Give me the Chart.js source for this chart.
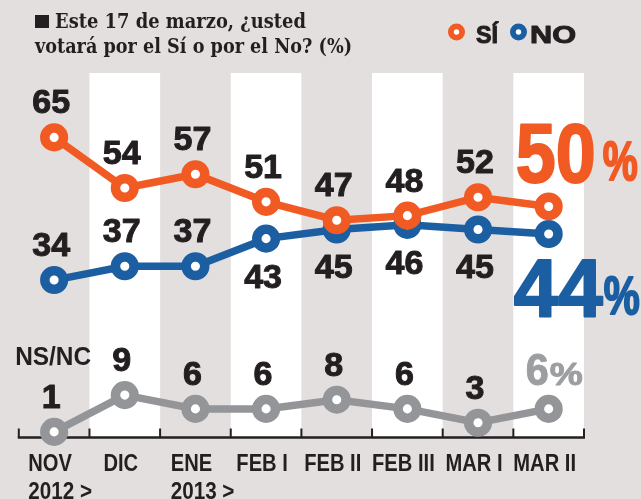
<!DOCTYPE html>
<html>
<head>
<meta charset="utf-8">
<script src="https://cdn.jsdelivr.net/npm/chart.js@4/dist/chart.umd.min.js"></script>
<style>
  html, body { margin: 0; padding: 0; background: #e2dfde; }
  #wrap { width: 641px; height: 499px; position: relative; }
  canvas { display: block; }
</style>
</head>
<body>
<div id="wrap"><canvas id="c" width="641" height="499"></canvas></div>
<script>
// ---- data ----
const categories = ['NOV', 'DIC', 'ENE', 'FEB I', 'FEB II', 'FEB III', 'MAR I', 'MAR II'];
const yearLabels = ['2012 >', '', '2013 >', '', '', '', '', ''];
const siValues = [65, 54, 57, 51, 47, 48, 52, 50];
const noValues = [34, 37, 37, 43, 45, 46, 45, 44];
const nsncValues = [1, 9, 6, 6, 8, 6, 3, 6];
// label placement for each point: 'up', 'down' or null (last point gets a big label)
const siLabelPos = ['up', 'up', 'up', 'up', 'up', 'up', 'up', null];
const noLabelPos = ['up', 'up', 'up', 'down', 'down', 'down', 'down', null];
const nsncLabelPos = ['up', 'up', 'up', 'up', 'up', 'up', 'up', null];
const titleLines = ['Este 17 de marzo, ¿usted', 'votará por el Sí o por el No? (%)'];

const ORANGE = '#f15a22';
const BLUE = '#1b5fa2';
const GRAY = '#939598';
const GRAY_TXT = '#9c9ea1';
const INK = '#231f20';
const SANS = '"Liberation Sans", Arial, sans-serif';
const SERIF = '"DejaVu Serif", "Liberation Serif", serif';

function drawText(ctx, text, x, y, font, color, opts) {
  opts = opts || {};
  ctx.save();
  ctx.font = font;
  ctx.fillStyle = color;
  ctx.textAlign = 'left';
  ctx.textBaseline = 'alphabetic';
  const mw = ctx.measureText(text).width;
  let sx = opts.scaleX || 1;
  if (opts.width) sx = opts.width / mw;
  const w = mw * sx;
  let left = x;
  if (opts.align === 'center') left = x - w / 2;
  else if (opts.align === 'right') left = x - w;
  ctx.translate(left, y);
  ctx.scale(sx, 1);
  ctx.fillText(text, 0, 0);
  if (opts.stroke) {
    ctx.lineWidth = opts.stroke;
    ctx.strokeStyle = color;
    ctx.lineJoin = 'round';
    ctx.strokeText(text, 0, 0);
  }
  ctx.restore();
  return { left: left, width: w };
}

const decorPlugin = {
  id: 'decor',
  beforeDatasetsDraw(chart) {
    const ctx = chart.ctx;
    const xs = chart.scales.x;
    const ys = chart.scales.y;
    const area = chart.chartArea;
    const axisY = ys.getPixelForValue(0) + 1;
    const n = categories.length;
    const bounds = [];
    for (let i = 0; i <= n; i++) {
      if (i === 0) bounds.push(area.left);
      else if (i === n) bounds.push(area.right);
      else bounds.push((xs.getPixelForValue(i - 1) + xs.getPixelForValue(i)) / 2);
    }
    ctx.save();
    ctx.fillStyle = '#ffffff';
    for (let i = 1; i < n; i += 2) {
      ctx.fillRect(bounds[i], area.top, bounds[i + 1] - bounds[i], axisY - area.top);
    }
    ctx.strokeStyle = INK;
    ctx.lineWidth = 2.5;
    ctx.beginPath();
    ctx.moveTo(bounds[0] - 1, axisY);
    ctx.lineTo(bounds[n] + 1, axisY);
    ctx.stroke();
    ctx.lineWidth = 2;
    for (let i = 0; i <= n; i++) {
      ctx.beginPath();
      ctx.moveTo(bounds[i], axisY);
      ctx.lineTo(bounds[i], axisY - 9);
      ctx.stroke();
    }
    ctx.restore();
  },
  afterDatasetsDraw(chart) {
    const ctx = chart.ctx;
    const xs = chart.scales.x;
    const ys = chart.scales.y;
    const axisY = ys.getPixelForValue(0) + 1;

    // title
    ctx.save();
    ctx.fillStyle = INK;
    ctx.fillRect(35, 15, 14, 13);
    ctx.restore();
    drawText(ctx, titleLines[0], 55, 28, 'bold 20px ' + SERIF, INK, { width: 251 });
    drawText(ctx, titleLines[1], 35, 53, 'bold 20px ' + SERIF, INK, { width: 317 });

    // legend
    function ring(cx, cy, color) {
      ctx.save();
      ctx.beginPath();
      ctx.arc(cx, cy, 5.6, 0, Math.PI * 2);
      ctx.fillStyle = '#fff';
      ctx.fill();
      ctx.lineWidth = 5.8;
      ctx.strokeStyle = color;
      ctx.stroke();
      ctx.restore();
    }
    ring(456.5, 32, ORANGE);
    drawText(ctx, 'SÍ', 476, 43, 'bold 24px ' + SANS, INK, { width: 22, stroke: 1 });
    ring(518.5, 32, BLUE);
    drawText(ctx, 'NO', 530, 43, 'bold 24px ' + SANS, INK, { width: 46, stroke: 1 });

    // x labels
    for (let i = 0; i < categories.length; i++) {
      const cx = xs.getPixelForValue(i) - 4;
      const r = drawText(ctx, categories[i], cx, axisY + 33, 'bold 24px ' + SANS, INK, { scaleX: 0.84, align: 'center' });
      if (yearLabels[i]) {
        drawText(ctx, yearLabels[i], r.left, axisY + 61, 'bold 24px ' + SANS, INK, { scaleX: 0.86 });
      }
    }

    // point value labels
    const sets = [
      { idx: 0, vals: siValues, pos: siLabelPos },
      { idx: 1, vals: noValues, pos: noLabelPos },
      { idx: 2, vals: nsncValues, pos: nsncLabelPos }
    ];
    sets.forEach(s => {
      const meta = chart.getDatasetMeta(s.idx);
      meta.data.forEach((pt, i) => {
        const p = s.pos[i];
        if (!p) return;
        const y = p === 'up' ? pt.y - 24 : pt.y + 49;
        drawText(ctx, String(s.vals[i]), pt.x - 3, y, 'bold 34px ' + SANS, INK, { align: 'center', stroke: 1 });
      });
    });

    // NS/NC label
    const g0 = chart.getDatasetMeta(2).data[0];
    drawText(ctx, 'NS/NC', g0.x - 1, g0.y - 67, 'bold 25px ' + SANS, INK, { width: 76, align: 'center' });

    // big end labels
    const last = categories.length - 1;
    const oL = chart.getDatasetMeta(0).data[last];
    drawText(ctx, String(siValues[last]), oL.x - 33, oL.y - 24, 'bold 83px ' + SANS, ORANGE, { width: 80, stroke: 2 });
    drawText(ctx, '%', oL.x + 54, oL.y - 26, 'bold 55px ' + SANS, ORANGE, { width: 35, stroke: 2 });
    const bL = chart.getDatasetMeta(1).data[last];
    drawText(ctx, String(noValues[last]), bL.x - 35, bL.y + 82, 'bold 81px ' + SANS, BLUE, { width: 89, stroke: 2 });
    drawText(ctx, '%', bL.x + 55, bL.y + 80, 'bold 53px ' + SANS, BLUE, { width: 36, stroke: 2 });
    const gL = chart.getDatasetMeta(2).data[last];
    drawText(ctx, String(nsncValues[last]), gL.x - 23, gL.y - 24, 'bold 45px ' + SANS, GRAY_TXT, { width: 23, stroke: 1 });
    drawText(ctx, '%', gL.x + 1, gL.y - 24, 'bold 32px ' + SANS, GRAY_TXT, { width: 33, stroke: 1 });
  }
};

function ds(label, data, color) {
  return {
    label: label,
    data: data,
    borderColor: color,
    backgroundColor: color,
    borderWidth: 7.5,
    pointRadius: 9.3,
    pointHoverRadius: 9.3,
    pointBorderWidth: 9.5,
    pointBackgroundColor: '#ffffff',
    pointBorderColor: color,
    tension: 0,
    fill: false,
    clip: false
  };
}

new Chart(document.getElementById('c'), {
  type: 'line',
  data: {
    labels: categories,
    datasets: [
      ds('SÍ', siValues, ORANGE),
      ds('NO', noValues, BLUE),
      ds('NS/NC', nsncValues, GRAY)
    ]
  },
  options: {
    responsive: false,
    animation: false,
    events: [],
    layout: { padding: { left: 16, right: 57, top: 73, bottom: 62.5 } },
    scales: {
      x: { type: 'category', offset: true, display: false },
      y: { min: 0, max: 79, display: false }
    },
    plugins: { legend: { display: false }, tooltip: { enabled: false } }
  },
  plugins: [decorPlugin]
});
</script>
</body>
</html>
